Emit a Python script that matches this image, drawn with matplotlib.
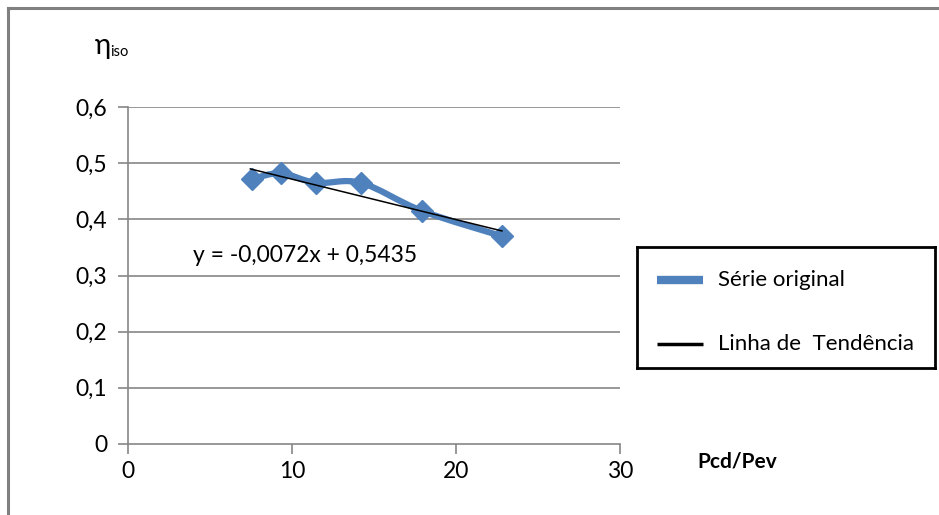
import numpy as np
import matplotlib
matplotlib.use("Agg")
import matplotlib.pyplot as plt
from matplotlib.path import Path
from matplotlib.patches import PathPatch
from matplotlib.lines import Line2D

# Data
x_vals = [7.56, 9.33, 11.46, 14.2, 17.93, 22.8]
y_vals = [0.472, 0.482, 0.465, 0.465, 0.415, 0.370]
slope = -0.0072
intercept = 0.5435
x_ticks = [0, 10, 20, 30]
y_ticks = [0, 0.1, 0.2, 0.3, 0.4, 0.5, 0.6]
y_tick_labels = ["0", "0,1", "0,2", "0,3", "0,4", "0,5", "0,6"]
x_tick_labels = ["0", "10", "20", "30"]
series_label = "Série original"
trend_label = "Linha de  Tendência"
equation = "y = -0,0072x + 0,5435"

plt.rcParams['font.family'] = ['Lato', 'DejaVu Sans']

fig = plt.figure(figsize=(9.39, 5.15), dpi=100)
ax = fig.add_axes([128/939, 1-444/515, (620-128)/939, (444-107)/515])

grid_c = '#868686'
ax.set_xlim(0, 30)
ax.set_ylim(0, 0.6)
ax.set_yticks(y_ticks)
ax.set_yticklabels(y_tick_labels)
ax.set_xticks(x_ticks)
ax.set_xticklabels(x_tick_labels)
for yv in y_ticks[1:]:
    ax.axhline(yv, color=grid_c, lw=1.2, zorder=0)
for s in ['top', 'right']:
    ax.spines[s].set_visible(False)
for s in ['left', 'bottom']:
    ax.spines[s].set_color(grid_c)
    ax.spines[s].set_linewidth(1.2)
ax.tick_params(axis='both', colors=grid_c, length=7, width=1.2, labelsize=16.5, labelcolor='black')
ax.tick_params(axis='x', pad=5)
ax.tick_params(axis='y', pad=8)

# Smoothed series (Catmull-Rom style bezier like Excel smoothing)
pts = np.column_stack([x_vals, y_vals])
sx = 1/30.0
sy = 1/0.6 * (337/492)
P = pts * [sx, sy]
verts = [tuple(P[0])]
codes = [Path.MOVETO]
n = len(P)
t = 1/6.0
for i in range(n-1):
    p0 = P[i-1] if i > 0 else P[i]
    p1 = P[i]
    p2 = P[i+1]
    p3 = P[i+2] if i+2 < n else P[i+1]
    c1 = p1 + (p2 - p0) * t
    c2 = p2 - (p3 - p1) * t
    verts += [tuple(c1), tuple(c2), tuple(p2)]
    codes += [Path.CURVE4]*3
verts = np.array(verts) / [sx, sy]
path = Path(verts, codes)
patch = PathPatch(path, facecolor='none', edgecolor='#4F81BD', lw=4.5, zorder=3, capstyle='round', joinstyle='round')
ax.add_patch(patch)
ax.plot(x_vals, y_vals, linestyle='none', marker='D', markersize=11, color='#4F81BD', zorder=4)

# Trend line
xt = np.array([x_vals[0] - 0.1, x_vals[-1]])
ax.plot(xt, slope*xt + intercept, color='black', lw=1.1, zorder=5)

ax.text(193/939, 1-256/515, equation, transform=fig.transFigure, fontsize=16.5, va='center', ha='left')

# Axis titles
fig.text(697/939, 1-461/515, "Pcd/Pev", fontsize=15, fontweight='bold', ha='left', va='center')
fig.text(95/939, 1-46/515, r"η", fontsize=20, ha='left', va='center')
fig.text(110/939, 1-52/515, "iso", fontsize=10.5, ha='left', va='center')

# Legend box
lg = fig.add_axes([637/939, 1-368/515, (935-637)/939, (368-247)/515])
lg.set_xlim(0, 298); lg.set_ylim(121, 0)
lg.set_xticks([]); lg.set_yticks([])
for s in lg.spines.values():
    s.set_color('black'); s.set_linewidth(2)
lg.plot([20, 66], [33, 33], color='#4F81BD', lw=6, solid_capstyle='butt')
lg.plot([20, 66], [97, 97], color='black', lw=2.5, solid_capstyle='butt')
lg.text(81, 33, series_label, fontsize=16, va='center', ha='left')
lg.text(81, 97, trend_label, fontsize=16, va='center', ha='left')

# Outer border (top and left)
fig.add_artist(Line2D([8/939, 1], [1-8/515, 1-8/515], color='#808080', lw=2.2, transform=fig.transFigure))
fig.add_artist(Line2D([8/939, 8/939], [0, 1-8/515], color='#808080', lw=2.2, transform=fig.transFigure))

fig.savefig("out.png", dpi=100, facecolor='white')
